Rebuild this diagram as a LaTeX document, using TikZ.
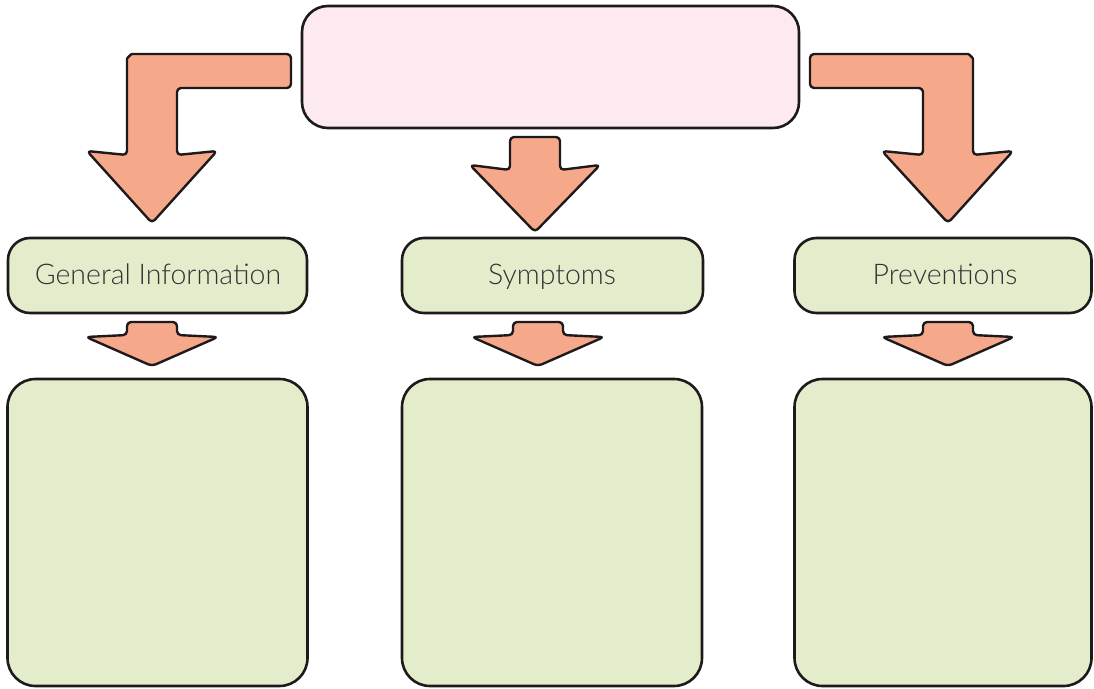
\documentclass[tikz,border=0pt]{standalone}
\usepackage{fontspec}
\setmainfont{Lato}[UprightFont={* Light}]
\definecolor{arrowfill}{HTML}{F6A88A}
\definecolor{topfill}{HTML}{FDE9F0}
\definecolor{boxfill}{HTML}{E4EDCB}
\definecolor{edge}{HTML}{1E1A1B}
\definecolor{txt}{HTML}{333333}
\tikzset{
  box/.style={draw=edge, line width=2.6pt, fill=boxfill, rounded corners=22pt,
    inner sep=0pt, outer sep=0pt},
  bigbox/.style={box, rounded corners=28pt},
  topbox/.style={box, fill=topfill, rounded corners=26pt},
  lbl/.style={text=txt, font=\fontsize{28.5}{32}\selectfont, anchor=base, inner sep=0pt},
  blockarrow/.style={draw=edge, line width=2.4pt, fill=arrowfill, line join=round, rounded corners=4pt},
  smallarrow/.pic={\draw[blockarrow] (-25,0) -- (-25,13) -- (-66,15) -- (0,44) -- (66,15) -- (25,13) -- (25,0) -- cycle;},
  midarrow/.pic={\draw[blockarrow] (-25,0) -- (-25,33) -- (-65,28) -- (0,95) -- (65,28) -- (25,33) -- (25,0) -- cycle;}
}
\begin{document}
\begin{tikzpicture}[x=1pt,y=-1pt]
\useasboundingbox (0,0) rectangle (1094,688);
% top box
\node[topbox, minimum width=497pt, minimum height=122pt] (top) at (550.5,67) {};
% middle boxes
\node[box, minimum width=299pt, minimum height=75pt] (gi) at (157.5,275.5) {};
\node[box, minimum width=301pt, minimum height=75pt] (sy) at (552.5,275.5) {};
\node[box, minimum width=297pt, minimum height=75pt] (pr) at (943,275.5) {};
\node[lbl] (gil) at (158,284.5) {General Information};
\node[lbl] (syl) at (552,284.5) {Symptoms};
\node[lbl] (prl) at (945,284.5) {Preventions};
% bottom boxes
\node[bigbox, minimum width=300pt, minimum height=307pt] (gib) at (157.5,532.5) {};
\node[bigbox, minimum width=300pt, minimum height=307pt] (syb) at (552,532.5) {};
\node[bigbox, minimum width=297pt, minimum height=307pt] (prb) at (943,532.5) {};
% bent arrows from top box
\draw[blockarrow] (291,54) -- (136,54) arc[start angle=-90, end angle=-180, radius=9]
  -- (127,155) -- (87,151) -- (152,223)
  -- (217,151) -- (177,155) -- (177,88) -- (291,88) -- cycle;
\draw[blockarrow] (810,54) -- (964,54) arc[start angle=-90, end angle=0, radius=9]
  -- (973,155) -- (1013,151) -- (948,223)
  -- (882,151) -- (923,155) -- (923,88) -- (810,88) -- cycle;
% central arrow
\pic at (535,137) {midarrow};
% small arrows
\pic at (152,322) {smallarrow};
\pic at (538,322) {smallarrow};
\pic at (948,322) {smallarrow};
\end{tikzpicture}
\end{document}
